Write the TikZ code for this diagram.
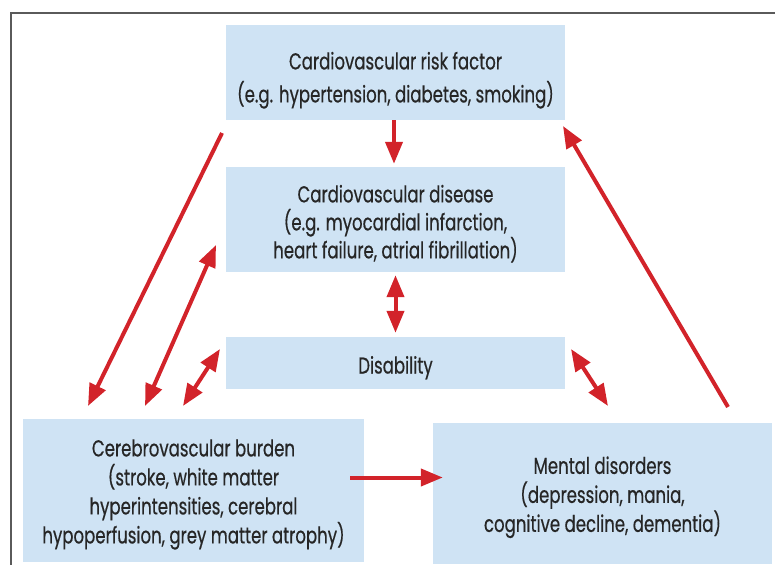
\documentclass[tikz,border=0pt]{standalone}
\usepackage{fontspec}
\setmainfont{Poppins}[FakeStretch=0.72, FakeBold=0.5]
\usepackage{xcolor}
\usetikzlibrary{arrows.meta}
\definecolor{boxblue}{HTML}{CFE3F4}
\definecolor{arrred}{HTML}{D2232A}
\definecolor{framegray}{HTML}{5A5A5A}
\newcommand{\topgap}[1]{\rule{0pt}{#1pt}}
\tikzset{
  box/.style={fill=boxblue, inner sep=0pt, align=center, text=black!85, font=\fontsize{23}{29}\selectfont},
  link/.style={draw=arrred, line width=4pt, -{Triangle[length=22pt,width=17pt]}},
  dlink/.style={draw=arrred, line width=4pt, {Triangle[length=22pt,width=17pt]}-{Triangle[length=22pt,width=17pt]}}
}
\begin{document}
\begin{tikzpicture}[x=1pt,y=-1pt]
  \useasboundingbox (0,0) rectangle (775,564);
  % frame
  \draw [framegray, line width=1.5pt] (11,570) -- (11,13) -- (790,13);
  % boxes
  \node [box, minimum width=339pt, minimum height=95pt] (risk) at (395.5,72.5)
    {\topgap{33}Cardiovascular risk factor\\[4pt](e.g. hypertension, diabetes, smoking)};
  \node [box, minimum width=339pt, minimum height=105pt] (cvd) at (395.5,219.5)
    {\topgap{26}Cardiovascular disease\\[-1pt](e.g. myocardial infarction,\\[-1pt]heart failure, atrial fibrillation)};
  \node [box, minimum width=339pt, minimum height=52pt] (disab) at (395.5,363)
    {\topgap{27}Disability};
  \node [box, minimum width=341pt, minimum height=143pt] (cereb) at (193.5,490.5)
    {\topgap{25}Cerebrovascular burden\\(stroke, white matter\\hyperintensities, cerebral\\hypoperfusion, grey matter atrophy)};
  \node [box, minimum width=339pt, minimum height=141pt] (mental) at (602.5,493.5)
    {\topgap{25}Mental disorders\\(depression, mania,\\cognitive decline, dementia)};
  % free arrow ends
  \coordinate (l1) at (222,133);
  \coordinate (l2) at (88,406);
  \coordinate (m1) at (216,245);
  \coordinate (m2) at (145,406);
  \coordinate (s1) at (220,349);
  \coordinate (s2) at (183,406);
  \coordinate (r1) at (571,349);
  \coordinate (r2) at (608,406);
  \coordinate (q1) at (728,407);
  \coordinate (q2) at (563,126);
  % arrows
  \draw [link, shorten >=3pt] ([xshift=-1.5pt]risk.south) -- ([xshift=-1.5pt]cvd.north);
  \draw [dlink, shorten <=3pt, shorten >=4pt] (cvd.south) -- (disab.north);
  \draw [link] (l1) -- (l2);
  \draw [dlink] (m1) -- (m2);
  \draw [dlink] (s1) -- (s2);
  \draw [dlink] (r1) -- (r2);
  \draw [link] (q1) -- (q2);
  \draw [link, shorten <=-14pt, shorten >=-10pt] ([yshift=13pt]cereb.east) -- ([yshift=16pt]mental.west);
\end{tikzpicture}
\end{document}
